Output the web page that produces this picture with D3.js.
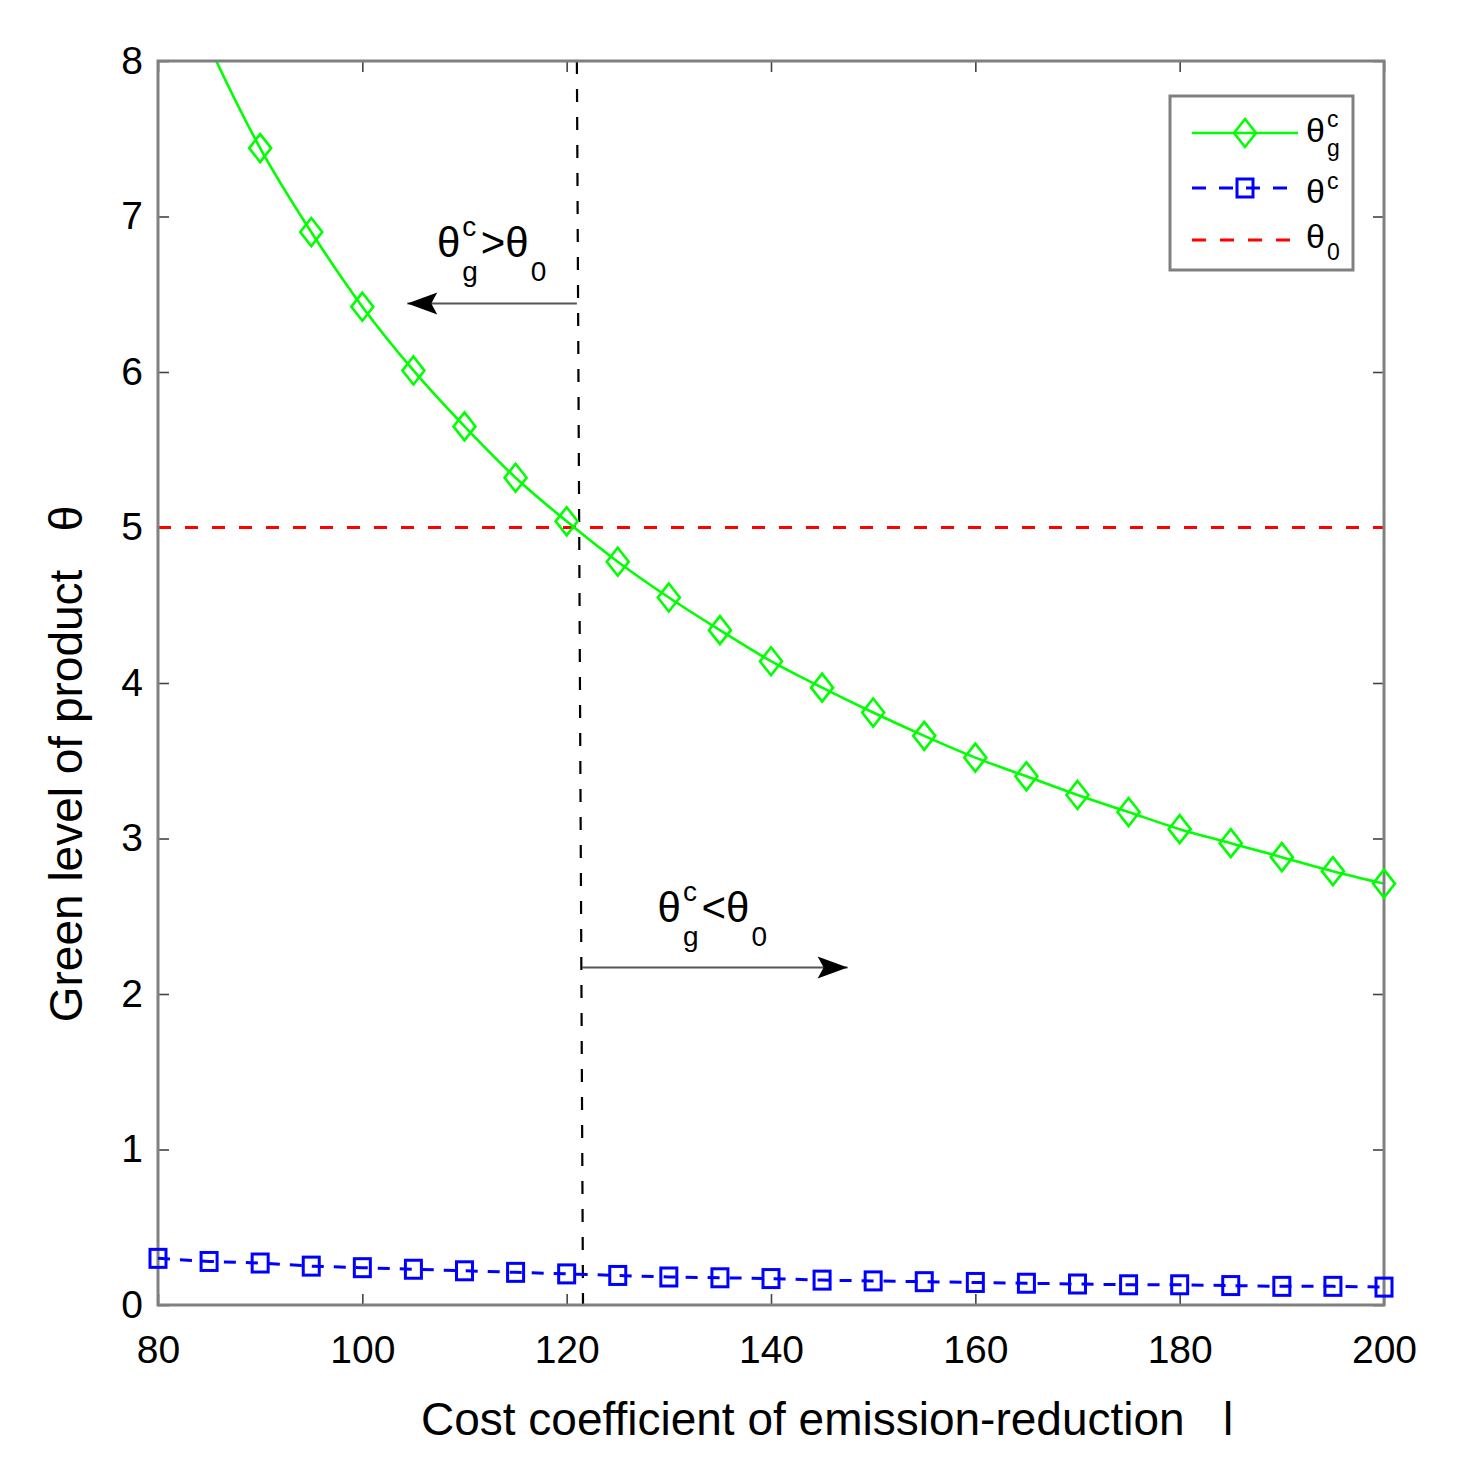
<!DOCTYPE html>
<html>
<head>
<meta charset="utf-8">
<script src="https://cdn.jsdelivr.net/npm/d3@7"></script>
<style>
  body { margin: 0; background: #fff; }
  text { font-family: "Liberation Sans", Arial, sans-serif; fill: #000; }
</style>
</head>
<body>
<svg width="1459" height="1481"></svg>
<script>
// data
var costCoef = [80, 85, 90, 95, 100, 105, 110, 115, 120, 125, 130, 135, 140, 145, 150, 155, 160, 165, 170, 175, 180, 185, 190, 195, 200];
var thetaGC = [8.87, 8.10, 7.44, 6.90, 6.42, 6.01, 5.65, 5.32, 5.04, 4.78, 4.55, 4.34, 4.14, 3.97, 3.81, 3.66, 3.52, 3.40, 3.28, 3.17, 3.06, 2.97, 2.88, 2.79, 2.71];
var thetaC = [0.30, 0.28, 0.27, 0.25, 0.24, 0.23, 0.22, 0.21, 0.20, 0.19, 0.18, 0.175, 0.17, 0.16, 0.155, 0.15, 0.145, 0.14, 0.135, 0.13, 0.13, 0.125, 0.12, 0.12, 0.115];
var theta0 = 5;
var splitX = [121.0, 121.6];   // dashed vertical line, top and bottom
var xTicks = [80, 100, 120, 140, 160, 180, 200];
var yTicks = [0, 1, 2, 3, 4, 5, 6, 7, 8];

var svg = d3.select("svg");
var L = 158, R = 1384, T = 61, B = 1305;

var x = d3.scaleLinear().domain([80, 200]).range([L, R]);
var y = d3.scaleLinear().domain([0, 8]).range([B, T]);

svg.append("defs").append("clipPath").attr("id", "plotClip")
  .append("rect").attr("x", L).attr("y", T).attr("width", R - L).attr("height", B - T);

svg.select("defs").append("marker")
  .attr("id", "head").attr("viewBox", "-32 -12 34 24")
  .attr("refX", 0).attr("refY", 0)
  .attr("markerWidth", 34).attr("markerHeight", 24)
  .attr("markerUnits", "userSpaceOnUse").attr("orient", "auto")
  .append("path").attr("d", "M0,0 L-30,-11 L-24,0 L-30,11 Z").attr("fill", "#000");

// axes
var xAxis = d3.axisBottom(x).tickValues(xTicks).tickSizeInner(-11).tickSizeOuter(0).tickPadding(30);
var xAxisTop = d3.axisTop(x).tickValues(xTicks).tickSizeInner(-11).tickSizeOuter(0).tickFormat("");
var yAxis = d3.axisLeft(y).tickValues(yTicks).tickSizeInner(-11).tickSizeOuter(0).tickPadding(15);
var yAxisRight = d3.axisRight(y).tickValues(yTicks).tickSizeInner(-11).tickSizeOuter(0).tickFormat("");

function styleAxis(g) {
  g.select(".domain").remove();
  g.selectAll(".tick line").attr("stroke", "#444").attr("stroke-width", 1.6);
  g.selectAll(".tick text").style("font-size", "39px").style("font-family", '"Liberation Sans", Arial, sans-serif').attr("fill", "#000");
}

svg.append("g").attr("transform", "translate(0," + B + ")").call(xAxis).call(styleAxis);
svg.append("g").attr("transform", "translate(0," + T + ")").call(xAxisTop).call(styleAxis);
svg.append("g").attr("transform", "translate(" + L + ",0)").call(yAxis).call(styleAxis);
svg.append("g").attr("transform", "translate(" + R + ",0)").call(yAxisRight).call(styleAxis);

var plot = svg.append("g").attr("clip-path", "url(#plotClip)");

// theta0 reference line
plot.append("line")
  .attr("x1", x(80)).attr("x2", x(200)).attr("y1", y(theta0)).attr("y2", y(theta0))
  .attr("stroke", "#ff0000").attr("stroke-width", 3).attr("stroke-dasharray", "13,14");

// vertical dashed line
plot.append("line")
  .attr("x1", x(splitX[0])).attr("y1", y(8)).attr("x2", x(splitX[1])).attr("y2", y(0))
  .attr("stroke", "#000").attr("stroke-width", 2.2).attr("stroke-dasharray", "13,15");

// green curve
var gData = costCoef.map(function (c, i) { return [c, thetaGC[i]]; });
var line = d3.line().x(function (d) { return x(d[0]); }).y(function (d) { return y(d[1]); });

plot.append("path").datum(gData)
  .attr("d", line.curve(d3.curveMonotoneX))
  .attr("fill", "none").attr("stroke", "#00ff00").attr("stroke-width", 2.6);

var diamond = "M0,-14 L11,0 L0,14 L-11,0 Z";
svg.selectAll("path.gm").data(gData.filter(function (d) { return d[1] <= 8; })).enter().append("path")
  .attr("class", "gm")
  .attr("d", diamond)
  .attr("transform", function (d) { return "translate(" + x(d[0]) + "," + y(d[1]) + ")"; })
  .attr("fill", "none").attr("stroke", "#00ff00").attr("stroke-width", 2.6);

// blue curve
var bData = costCoef.map(function (c, i) { return [c, thetaC[i]]; });
svg.append("path").datum(bData)
  .attr("d", d3.line().x(function (d) { return x(d[0]); }).y(function (d) { return y(d[1]); }))
  .attr("fill", "none").attr("stroke", "#0000ff").attr("stroke-width", 3).attr("stroke-dasharray", "12,10");

svg.selectAll("rect.bm").data(bData).enter().append("rect")
  .attr("class", "bm")
  .attr("x", function (d) { return x(d[0]) - 8; })
  .attr("y", function (d) { return y(d[1]) - 9; })
  .attr("width", 16).attr("height", 18)
  .attr("fill", "none").attr("stroke", "#0000ff").attr("stroke-width", 3);

// plot box
svg.insert("rect", "path.gm").attr("x", L).attr("y", T).attr("width", R - L).attr("height", B - T)
  .attr("fill", "none").attr("stroke", "#808080").attr("stroke-width", 3);

// theta with sub/superscripts
function thetaLabel(g, px, py, size, small, supUp, subDown, sup, sub, rest, sub2) {
  var t = g.append("text").attr("x", px).attr("y", py).style("font-size", size + "px").text("\u03b8");
  var w = t.node().getComputedTextLength();
  var sx = px + w + 2;
  var wSmall = 0;
  if (sup) {
    var s1 = g.append("text").attr("x", sx).attr("y", py - supUp).style("font-size", small + "px").text(sup);
    wSmall = Math.max(wSmall, s1.node().getComputedTextLength());
  }
  if (sub) {
    var s2 = g.append("text").attr("x", sx).attr("y", py + subDown).style("font-size", small + "px").text(sub);
    wSmall = Math.max(wSmall, s2.node().getComputedTextLength());
  }
  if (rest) {
    var r = g.append("text").attr("x", sx + wSmall + 3).attr("y", py).style("font-size", size + "px").text(rest);
    var rx = sx + wSmall + 3 + r.node().getComputedTextLength() + 2;
    g.append("text").attr("x", rx).attr("y", py + subDown).style("font-size", small + "px").text(sub2);
  }
}

// annotations
var ann = svg.append("g");
thetaLabel(ann, x(107.3), y(6.74), 42, 28, 21, 24, "c", "g", ">\u03b8", "0");
thetaLabel(ann, x(128.9), y(2.46), 42, 28, 21, 24, "c", "g", "<\u03b8", "0");

svg.append("line")
  .attr("x1", x(121.0)).attr("y1", y(6.44)).attr("x2", x(104.4)).attr("y2", y(6.44))
  .attr("stroke", "#555").attr("stroke-width", 2).attr("marker-end", "url(#head)");
svg.append("line")
  .attr("x1", x(121.5)).attr("y1", y(2.17)).attr("x2", x(147.5)).attr("y2", y(2.17))
  .attr("stroke", "#555").attr("stroke-width", 2).attr("marker-end", "url(#head)");

// legend
var lg = svg.append("g");
lg.append("rect").attr("x", 1170).attr("y", 96).attr("width", 183).attr("height", 174)
  .attr("fill", "#fff").attr("stroke", "#808080").attr("stroke-width", 3);

lg.append("line").attr("x1", 1192).attr("x2", 1298).attr("y1", 133).attr("y2", 133)
  .attr("stroke", "#00ff00").attr("stroke-width", 2.6);
lg.append("path").attr("d", diamond).attr("transform", "translate(1245,133)")
  .attr("fill", "none").attr("stroke", "#00ff00").attr("stroke-width", 2.6);

lg.append("line").attr("x1", 1192).attr("x2", 1298).attr("y1", 188).attr("y2", 188)
  .attr("stroke", "#0000ff").attr("stroke-width", 3).attr("stroke-dasharray", "14,13");
lg.append("rect").attr("x", 1237).attr("y", 179).attr("width", 16).attr("height", 18)
  .attr("fill", "none").attr("stroke", "#0000ff").attr("stroke-width", 3);

lg.append("line").attr("x1", 1192).attr("x2", 1298).attr("y1", 240).attr("y2", 240)
  .attr("stroke", "#ff0000").attr("stroke-width", 3).attr("stroke-dasharray", "14,14");

thetaLabel(lg, 1306, 142, 34, 23, 15, 14, "c", "g");
thetaLabel(lg, 1306, 203, 34, 23, 14, 14, "c", null);
thetaLabel(lg, 1306, 248, 34, 23, 15, 12, null, "0");

// axis titles
svg.append("text")
  .attr("x", 421).attr("y", 1435)
  .style("font-size", "46px")
  .text("Cost coefficient of emission-reduction\u00a0\u00a0\u00a0l");

svg.append("text")
  .attr("transform", "translate(82,764) rotate(-90)")
  .attr("text-anchor", "middle")
  .style("font-size", "46px")
  .text("Green level of product\u00a0\u00a0\u00a0\u03b8");
</script>
</body>
</html>
